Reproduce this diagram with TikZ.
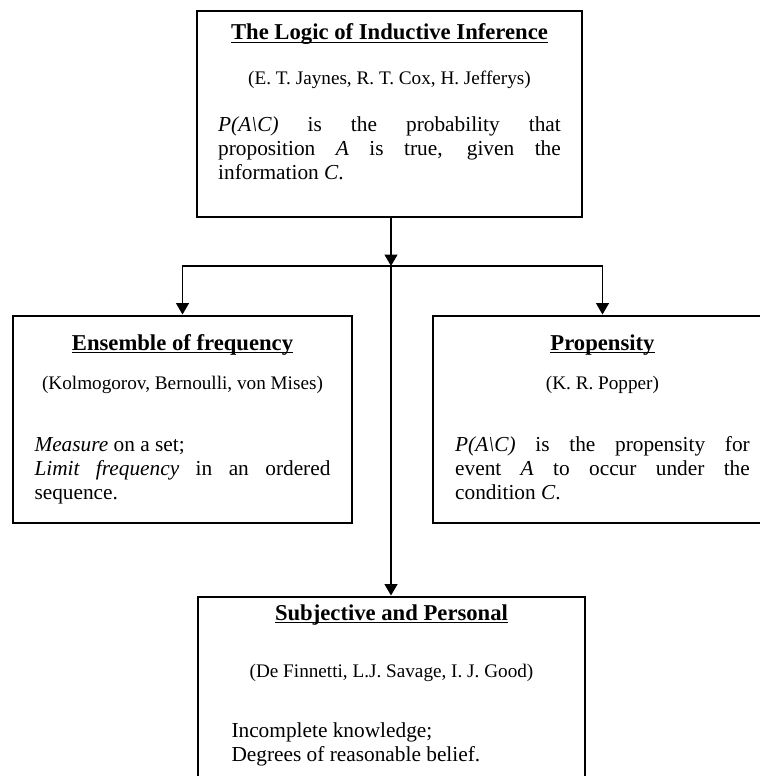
\documentclass[tikz,border=0pt]{standalone}
\usepackage{fontspec}
\setmainfont{Liberation Serif}
\usetikzlibrary{arrows.meta,positioning}

% looks of the boxes, their texts and the arrows
\tikzset{
  frame/.style={draw, line width=2.2pt, inner sep=0pt,
    minimum width=254.25pt, minimum height=155.25pt},
  txt/.style={anchor=north, inner sep=0pt, align=justify,
    font=\fontsize{16}{18}\selectfont},
  link/.style={line width=1.3pt, -{Triangle[width=9.5pt,length=8.5pt]}},
}
\newcommand{\boxtitle}[1]{{\centering\fontsize{17}{18}\selectfont\bfseries\strut\underline{\smash{#1}}\par}}
\newcommand{\boxnames}[1]{{\centering\fontsize{14.4}{18}\selectfont #1\par}}
\newcommand{\PAC}{\textit{P(A\textbackslash C)}}

\begin{document}
\begin{tikzpicture}[x=0.75pt, y=-0.75pt]

		\useasboundingbox (0,0) rectangle (760,776);
		\clip (0,0) rectangle (760,776);

		% Draw the four boxes
		\node[frame, minimum width=288.75pt, minimum height=154.5pt] (logic) at (389.5,114) {};
		\node[frame] (freq) at (182.5,419.5) {};
		\node[frame] (prop) at (602.5,419.5) {};
		\node[frame, minimum width=290.25pt] (subj) at (391.5,700.5) {};

		% Draw the texts inside the boxes
		\node[txt, text width=257pt, yshift=-10pt] (logictext) at (logic.north) {%
			\boxtitle{The Logic of Inductive Inference}\vspace{15.75pt}
			\boxnames{(E. T. Jaynes, R. T. Cox, H. Jefferys)}\vspace{17.25pt}
			\PAC{} is the probability that\linebreak proposition \textit{A} is true, given the\linebreak information \textit{C}.};

		\node[txt, text width=222pt, yshift=-14.4pt] (freqtext) at (freq.north) {%
			\boxtitle{Ensemble of frequency}\vspace{11.25pt}
			\boxnames{(Kolmogorov, Bernoulli, von Mises)}\vspace{28.5pt}
			\textit{Measure} on a set;\\
			\textit{Limit frequency} in an ordered\linebreak sequence.};

		\node[txt, text width=221pt, yshift=-14.4pt] (proptext) at (prop.north) {%
			\boxtitle{Propensity}\vspace{11.25pt}
			\boxnames{(K. R. Popper)}\vspace{28.5pt}
			\PAC{} is the propensity for\linebreak event \textit{A} to occur under the\linebreak condition \textit{C}.};

		\node[txt, text width=240pt, yshift=-6.2pt] (subjtext) at (subj.north) {%
			\boxtitle{Subjective and Personal}\vspace{24.75pt}
			\boxnames{(De Finnetti, L.J. Savage, I. J. Good)}\vspace{27pt}
			Incomplete knowledge;\\
			Degrees of reasonable belief.};

		% Draw the arrows from the top box
		\coordinate (split) at (391,266);
		\draw[link] (logic.south -| split) -- (split);
		\draw[link] (split) -| (freq.north);
		\draw[link] (split) -| (prop.north);
		\draw[link] (split) -- (split |- subj.north);

	\end{tikzpicture}
\end{document}
